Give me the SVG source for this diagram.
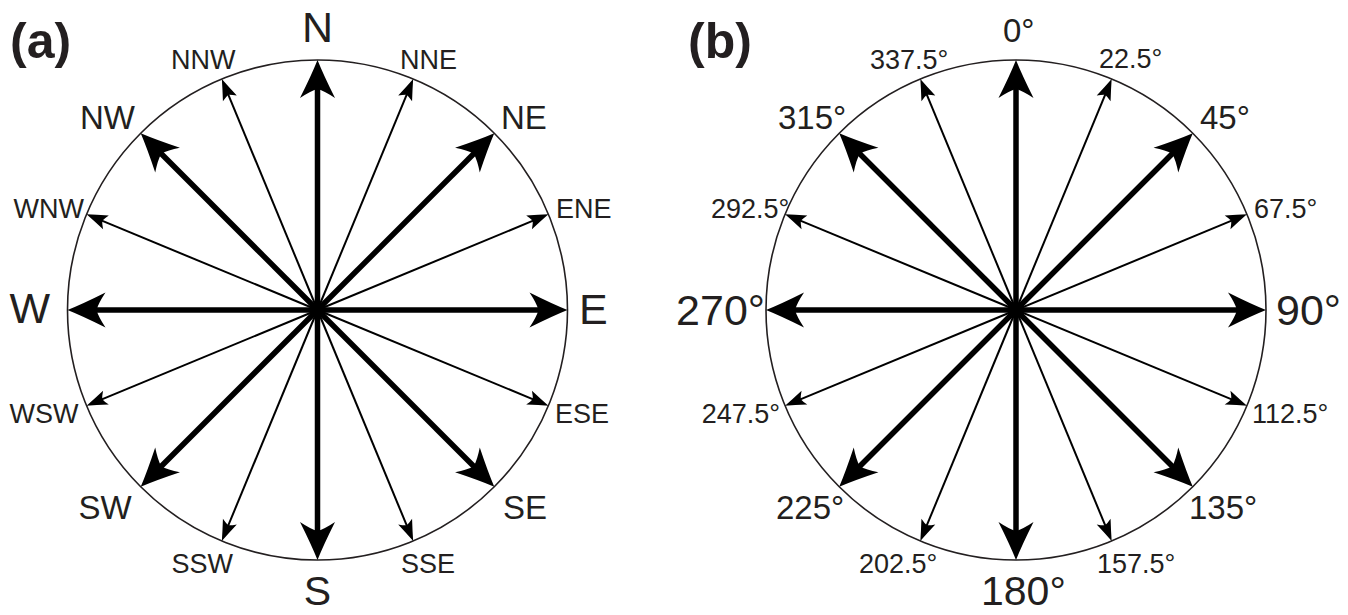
<svg xmlns="http://www.w3.org/2000/svg" width="1348" height="615" viewBox="0 0 1348 615">
<style>
text{font-family:"Liberation Sans",Arial,sans-serif;fill:#231f20}
.s27{font-size:27px}
.s33{font-size:33px}
.s43{font-size:43px}
.s41{font-size:41px}
.panel{font-size:50px;font-weight:bold}
.ring{fill:none;stroke:#231f20;stroke-width:1.6}
.big line{stroke:#000;stroke-width:5.5}
.thin line{stroke:#000;stroke-width:2}
</style>
<defs>
<g id="arrowBig" class="big">
<line x1="0" y1="0" x2="0" y2="-228"/>
<path d="M0,-250 Q6,-235 17.5,-212 Q7,-219 0,-221 Q-7,-219 -17.5,-212 Q-6,-235 0,-250 Z" fill="#000"/>
</g>
<g id="arrowThin" class="thin">
<line x1="0" y1="0" x2="0" y2="-238"/>
<path d="M0,-250 Q3,-241 7.5,-229 Q3,-232 0,-233 Q-3,-232 -7.5,-229 Q-3,-241 0,-250 Z" fill="#000"/>
</g>
</defs>

<g id="panel-a">
<text class="panel" x="10" y="58">(a)</text>
<circle class="ring" cx="317.5" cy="310" r="250"/>
<g id="connectors-a" transform="translate(317.5,310)">
<use href="#arrowBig" transform="rotate(0)"/>
<use href="#arrowThin" transform="rotate(22.5)"/>
<use href="#arrowBig" transform="rotate(45)"/>
<use href="#arrowThin" transform="rotate(67.5)"/>
<use href="#arrowBig" transform="rotate(90)"/>
<use href="#arrowThin" transform="rotate(112.5)"/>
<use href="#arrowBig" transform="rotate(135)"/>
<use href="#arrowThin" transform="rotate(157.5)"/>
<use href="#arrowBig" transform="rotate(180)"/>
<use href="#arrowThin" transform="rotate(202.5)"/>
<use href="#arrowBig" transform="rotate(225)"/>
<use href="#arrowThin" transform="rotate(247.5)"/>
<use href="#arrowBig" transform="rotate(270)"/>
<use href="#arrowThin" transform="rotate(292.5)"/>
<use href="#arrowBig" transform="rotate(315)"/>
<use href="#arrowThin" transform="rotate(337.5)"/>
</g>
<g id="label-N"><text class="s43" x="317.5" y="42" text-anchor="middle">N</text></g>
<g id="label-NNE"><text class="s27" x="400" y="69">NNE</text></g>
<g id="label-NE"><text class="s33" x="501" y="129">NE</text></g>
<g id="label-ENE"><text class="s27" x="556" y="218">ENE</text></g>
<g id="label-E"><text class="s43" x="579" y="324">E</text></g>
<g id="label-ESE"><text class="s27" x="555" y="423">ESE</text></g>
<g id="label-SE"><text class="s33" x="503" y="519">SE</text></g>
<g id="label-SSE"><text class="s27" x="401" y="573">SSE</text></g>
<g id="label-S"><text class="s41" x="317.5" y="605" text-anchor="middle">S</text></g>
<g id="label-SSW"><text class="s27" x="171.5" y="573">SSW</text></g>
<g id="label-SW"><text class="s33" x="78.5" y="519">SW</text></g>
<g id="label-WSW"><text class="s27" x="9.5" y="423">WSW</text></g>
<g id="label-W"><text class="s43" x="9.5" y="323">W</text></g>
<g id="label-WNW"><text class="s27" x="13.5" y="218">WNW</text></g>
<g id="label-NW"><text class="s33" x="80" y="129">NW</text></g>
<g id="label-NNW"><text class="s27" x="171" y="69">NNW</text></g>
</g>

<g id="panel-b">
<text class="panel" x="688" y="58">(b)</text>
<circle class="ring" cx="1016" cy="310" r="250"/>
<g id="connectors-b" transform="translate(1016,310)">
<use href="#arrowBig" transform="rotate(0)"/>
<use href="#arrowThin" transform="rotate(22.5)"/>
<use href="#arrowBig" transform="rotate(45)"/>
<use href="#arrowThin" transform="rotate(67.5)"/>
<use href="#arrowBig" transform="rotate(90)"/>
<use href="#arrowThin" transform="rotate(112.5)"/>
<use href="#arrowBig" transform="rotate(135)"/>
<use href="#arrowThin" transform="rotate(157.5)"/>
<use href="#arrowBig" transform="rotate(180)"/>
<use href="#arrowThin" transform="rotate(202.5)"/>
<use href="#arrowBig" transform="rotate(225)"/>
<use href="#arrowThin" transform="rotate(247.5)"/>
<use href="#arrowBig" transform="rotate(270)"/>
<use href="#arrowThin" transform="rotate(292.5)"/>
<use href="#arrowBig" transform="rotate(315)"/>
<use href="#arrowThin" transform="rotate(337.5)"/>
</g>
<g id="label-0"><text class="s33" x="1003" y="42">0°</text></g>
<g id="label-22.5"><text class="s27" x="1099" y="68">22.5°</text></g>
<g id="label-45"><text class="s33" x="1200" y="129">45°</text></g>
<g id="label-67.5"><text class="s27" x="1254" y="218">67.5°</text></g>
<g id="label-90"><text class="s43" x="1276" y="325">90°</text></g>
<g id="label-112.5"><text class="s27" x="1252" y="423">112.5°</text></g>
<g id="label-135"><text class="s33" x="1189" y="519">135°</text></g>
<g id="label-157.5"><text class="s27" x="1097" y="573">157.5°</text></g>
<g id="label-180"><text class="s41" x="981" y="605">180°</text></g>
<g id="label-202.5"><text class="s27" x="859" y="573">202.5°</text></g>
<g id="label-225"><text class="s33" x="776" y="519">225°</text></g>
<g id="label-247.5"><text class="s27" x="780" y="423" text-anchor="end">247.5°</text></g>
<g id="label-270"><text class="s43" x="765" y="325" text-anchor="end">270°</text></g>
<g id="label-292.5"><text class="s27" x="711" y="218">292.5°</text></g>
<g id="label-315"><text class="s33" x="778" y="129">315°</text></g>
<g id="label-337.5"><text class="s27" x="870" y="69">337.5°</text></g>
</g>
</svg>
